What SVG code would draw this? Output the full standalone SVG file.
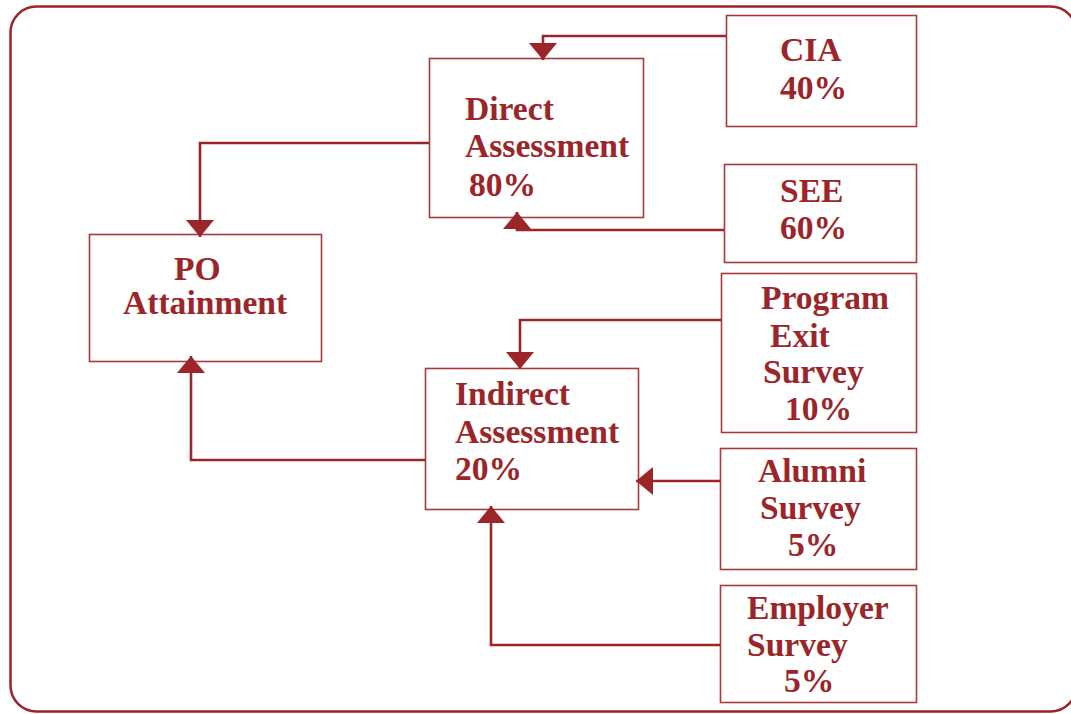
<svg xmlns="http://www.w3.org/2000/svg" width="1071" height="714" viewBox="0 0 1071 714">
<style>
.frame{fill:none;stroke:#9b2528;stroke-width:2.5}
.box{fill:#fff;stroke:#a83a3c;stroke-width:1.6}
.lbl{font-family:"Liberation Serif","Times New Roman",serif;font-weight:bold;font-size:33.6px;fill:#9b2528}
.conn{fill:none;stroke:#9b2528;stroke-width:2.6}
</style>
<defs>
<marker id="ah" viewBox="0 0 17 28" refX="17" refY="14" markerWidth="17" markerHeight="28" markerUnits="userSpaceOnUse" orient="auto">
<path d="M0,0 L17,14 L0,28 Z" fill="#9b2528"/>
</marker>
</defs>
<rect width="1071" height="714" fill="#fff"/>
<rect class="frame" x="10.5" y="6.5" width="1066" height="705" rx="26"/>
<g id="direct"><rect class="box" x="429.5" y="58.5" width="214" height="159"/>
<text class="lbl" x="465" y="120">Direct</text><text class="lbl" x="465" y="157">Assessment</text><text class="lbl" x="469" y="196">80%</text></g>
<g id="po"><rect class="box" x="89.5" y="234.5" width="232" height="127"/>
<text class="lbl" x="174" y="280">PO</text><text class="lbl" x="123" y="314">Attainment</text></g>
<g id="indirect"><rect class="box" x="425.5" y="368.5" width="213" height="141"/>
<text class="lbl" x="455" y="405">Indirect</text><text class="lbl" x="455" y="443">Assessment</text><text class="lbl" x="455" y="480">20%</text></g>
<g id="cia"><rect class="box" x="726.5" y="15.5" width="190" height="111"/>
<text class="lbl" x="780" y="61">CIA</text><text class="lbl" x="780" y="99">40%</text></g>
<g id="see"><rect class="box" x="724.5" y="164.5" width="192" height="98"/>
<text class="lbl" x="780" y="202">SEE</text><text class="lbl" x="780" y="239">60%</text></g>
<g id="pes"><rect class="box" x="721.5" y="273.5" width="195" height="159"/>
<text class="lbl" x="761" y="309">Program</text><text class="lbl" x="770" y="347">Exit</text><text class="lbl" x="763" y="383">Survey</text><text class="lbl" x="785" y="420">10%</text></g>
<g id="alumni"><rect class="box" x="720.5" y="448.5" width="196" height="121"/>
<text class="lbl" x="758" y="482">Alumni</text><text class="lbl" x="760" y="519">Survey</text><text class="lbl" x="788" y="556">5%</text></g>
<g id="employer"><rect class="box" x="720.5" y="585.5" width="196" height="117"/>
<text class="lbl" x="747" y="619">Employer</text><text class="lbl" x="747" y="656">Survey</text><text class="lbl" x="784" y="692">5%</text></g>
<g id="connectors">
<path class="conn" marker-end="url(#ah)" d="M726,36 H543 V60"/>
<path class="conn" marker-end="url(#ah)" d="M724,230 H517 V212"/>
<path class="conn" marker-end="url(#ah)" d="M429,143 H200 V237"/>
<path class="conn" marker-end="url(#ah)" d="M425,460 H191 V356"/>
<path class="conn" marker-end="url(#ah)" d="M721,320 H520 V369"/>
<path class="conn" marker-end="url(#ah)" d="M720,481 H636"/>
<path class="conn" marker-end="url(#ah)" d="M720,645 H491 V506"/>
</g>
</svg>
